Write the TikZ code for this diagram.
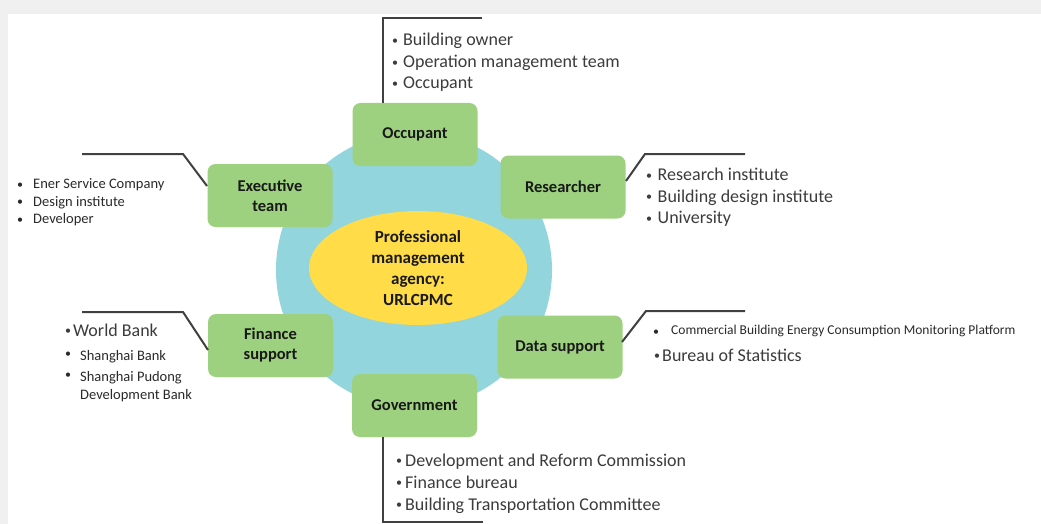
\documentclass[tikz,border=0pt]{standalone}
\usepackage{fontspec}
\setmainfont{Carlito}
\usetikzlibrary{shapes.geometric}
\definecolor{bggray}{HTML}{F0F0F0}
\definecolor{boxgreen}{HTML}{9DD17F}
\definecolor{ringblue}{HTML}{92D5DD}
\definecolor{coreyellow}{HTML}{FFDC48}
\definecolor{linegray}{HTML}{404040}
\definecolor{listgray}{HTML}{3C3C3C}
\definecolor{listdark}{HTML}{2A2A2A}
\newcommand\mybul[2]{\makebox[#1][l]{\raisebox{#2}{\fontsize{12}{12}\selectfont•}}}
\begin{document}
\begin{tikzpicture}[x=1pt,y=-1pt,
  rolebox/.style={fill=boxgreen,rounded corners=8pt,minimum width=125pt,minimum height=63pt,inner sep=0pt,
    align=center,font=\fontsize{16.5}{20}\selectfont\bfseries,text=black!90},
  bigitem/.style={anchor=base west,inner sep=0pt,text=listgray,font=\fontsize{18}{21.5}\selectfont},
  smallitem/.style={anchor=base west,inner sep=0pt,text=listdark,font=\fontsize{14.5}{17.5}\selectfont},
  tinyitem/.style={anchor=base west,inner sep=0pt,text=listdark,font=\fontsize{13.5}{16}\selectfont},
  leader/.style={draw=linegray,line width=2pt}]
\useasboundingbox (0,0) rectangle (1041,524);
\fill[bggray] (0,0) rectangle (1041,524);
\fill[white] (8,14) rectangle (1041,524);

% ring and core
\node[circle,fill=ringblue,minimum size=276pt,inner sep=0pt] (ring) at (414,270) {};
\node[ellipse,fill=coreyellow,minimum width=218pt,minimum height=114pt,inner sep=0pt,align=center,
  font=\fontsize{17}{21}\selectfont\bfseries,text=black!90] (core) at (418,268)
  {Professional\\management\\agency:\\URLCPMC};

% role boxes
\node[rolebox] (occ) at (415,134.5) {Occupant};
\node[rolebox] (res) at (563,187) {Researcher};
\node[rolebox] (exe) at (270,195.5) {Executive\\team};
\node[rolebox] (fin) at (270.5,345.5) {Finance\\support};
\node[rolebox] (dat) at (560,347) {Data support};
\node[rolebox] (gov) at (414.5,405.5) {Government};

% leader lines
\coordinate (o1) at (383,103); \coordinate (o2) at (383,18); \coordinate (o3) at (482,18);
\draw[leader] (o1) -- (o2) -- (o3);
\coordinate (e1) at (207,186); \coordinate (e2) at (183,154); \coordinate (e3) at (82,154);
\draw[leader] (e1) -- (e2) -- (e3);
\coordinate (r1) at (626,181); \coordinate (r2) at (645,154); \coordinate (r3) at (745,154);
\draw[leader] (r1) -- (r2) -- (r3);
\coordinate (f1) at (208,350); \coordinate (f2) at (183,312); \coordinate (f3) at (82,312);
\draw[leader] (f1) -- (f2) -- (f3);
\coordinate (d1) at (622,342); \coordinate (d2) at (646,311); \coordinate (d3) at (745,311);
\draw[leader] (d1) -- (d2) -- (d3);
\coordinate (g1) at (383,437); \coordinate (g2) at (383,522); \coordinate (g3) at (483,522);
\draw[leader] (g1) -- (g2) -- (g3);

% occupant list
\node[bigitem] (oa) at (392,46) {\mybul{11pt}{1.2pt}Building owner};
\node[bigitem] (ob) at (392,67.5) {\mybul{11pt}{1.2pt}Operation management team};
\node[bigitem] (oc) at (392,89) {\mybul{11pt}{1.2pt}Occupant};

% researcher list
\node[bigitem] (ra) at (646,180.5) {\mybul{11.5pt}{1.2pt}Research institute};
\node[bigitem] (rb) at (646,202) {\mybul{11.5pt}{1.2pt}Building design institute};
\node[bigitem] (rc) at (646,223.5) {\mybul{11.5pt}{1.2pt}University};

% executive list
\node[smallitem] (ea) at (17,188.5) {\mybul{16pt}{0.5pt}Ener Service Company};
\node[smallitem] (eb) at (17,206) {\mybul{16pt}{0.5pt}Design institute};
\node[smallitem] (ec) at (17,223.5) {\mybul{16pt}{0.5pt}Developer};

% finance list
\node[bigitem] (fa) at (65,336) {\mybul{8pt}{1.2pt}World Bank};
\node[smallitem] (fb) at (65,360) {\mybul{15pt}{2.5pt}Shanghai Bank};
\node[smallitem] (fc) at (65,381) {\mybul{15pt}{2.5pt}Shanghai Pudong};
\node[smallitem] (fd) at (80,399) {Development Bank};

% data list
\node[tinyitem] (da) at (653,334) {\mybul{18pt}{-1pt}Commercial Building Energy Consumption Monitoring Platform};
\node[bigitem] (db) at (654,361) {\mybul{8pt}{1.2pt}Bureau of Statistics};

% government list
\node[bigitem] (ga) at (396,466) {\mybul{9pt}{1.2pt}Development and Reform Commission};
\node[bigitem] (gb) at (396,488) {\mybul{9pt}{1.2pt}Finance bureau};
\node[bigitem] (gc) at (396,510) {\mybul{9pt}{1.2pt}Building Transportation Committee};
\end{tikzpicture}
\end{document}
